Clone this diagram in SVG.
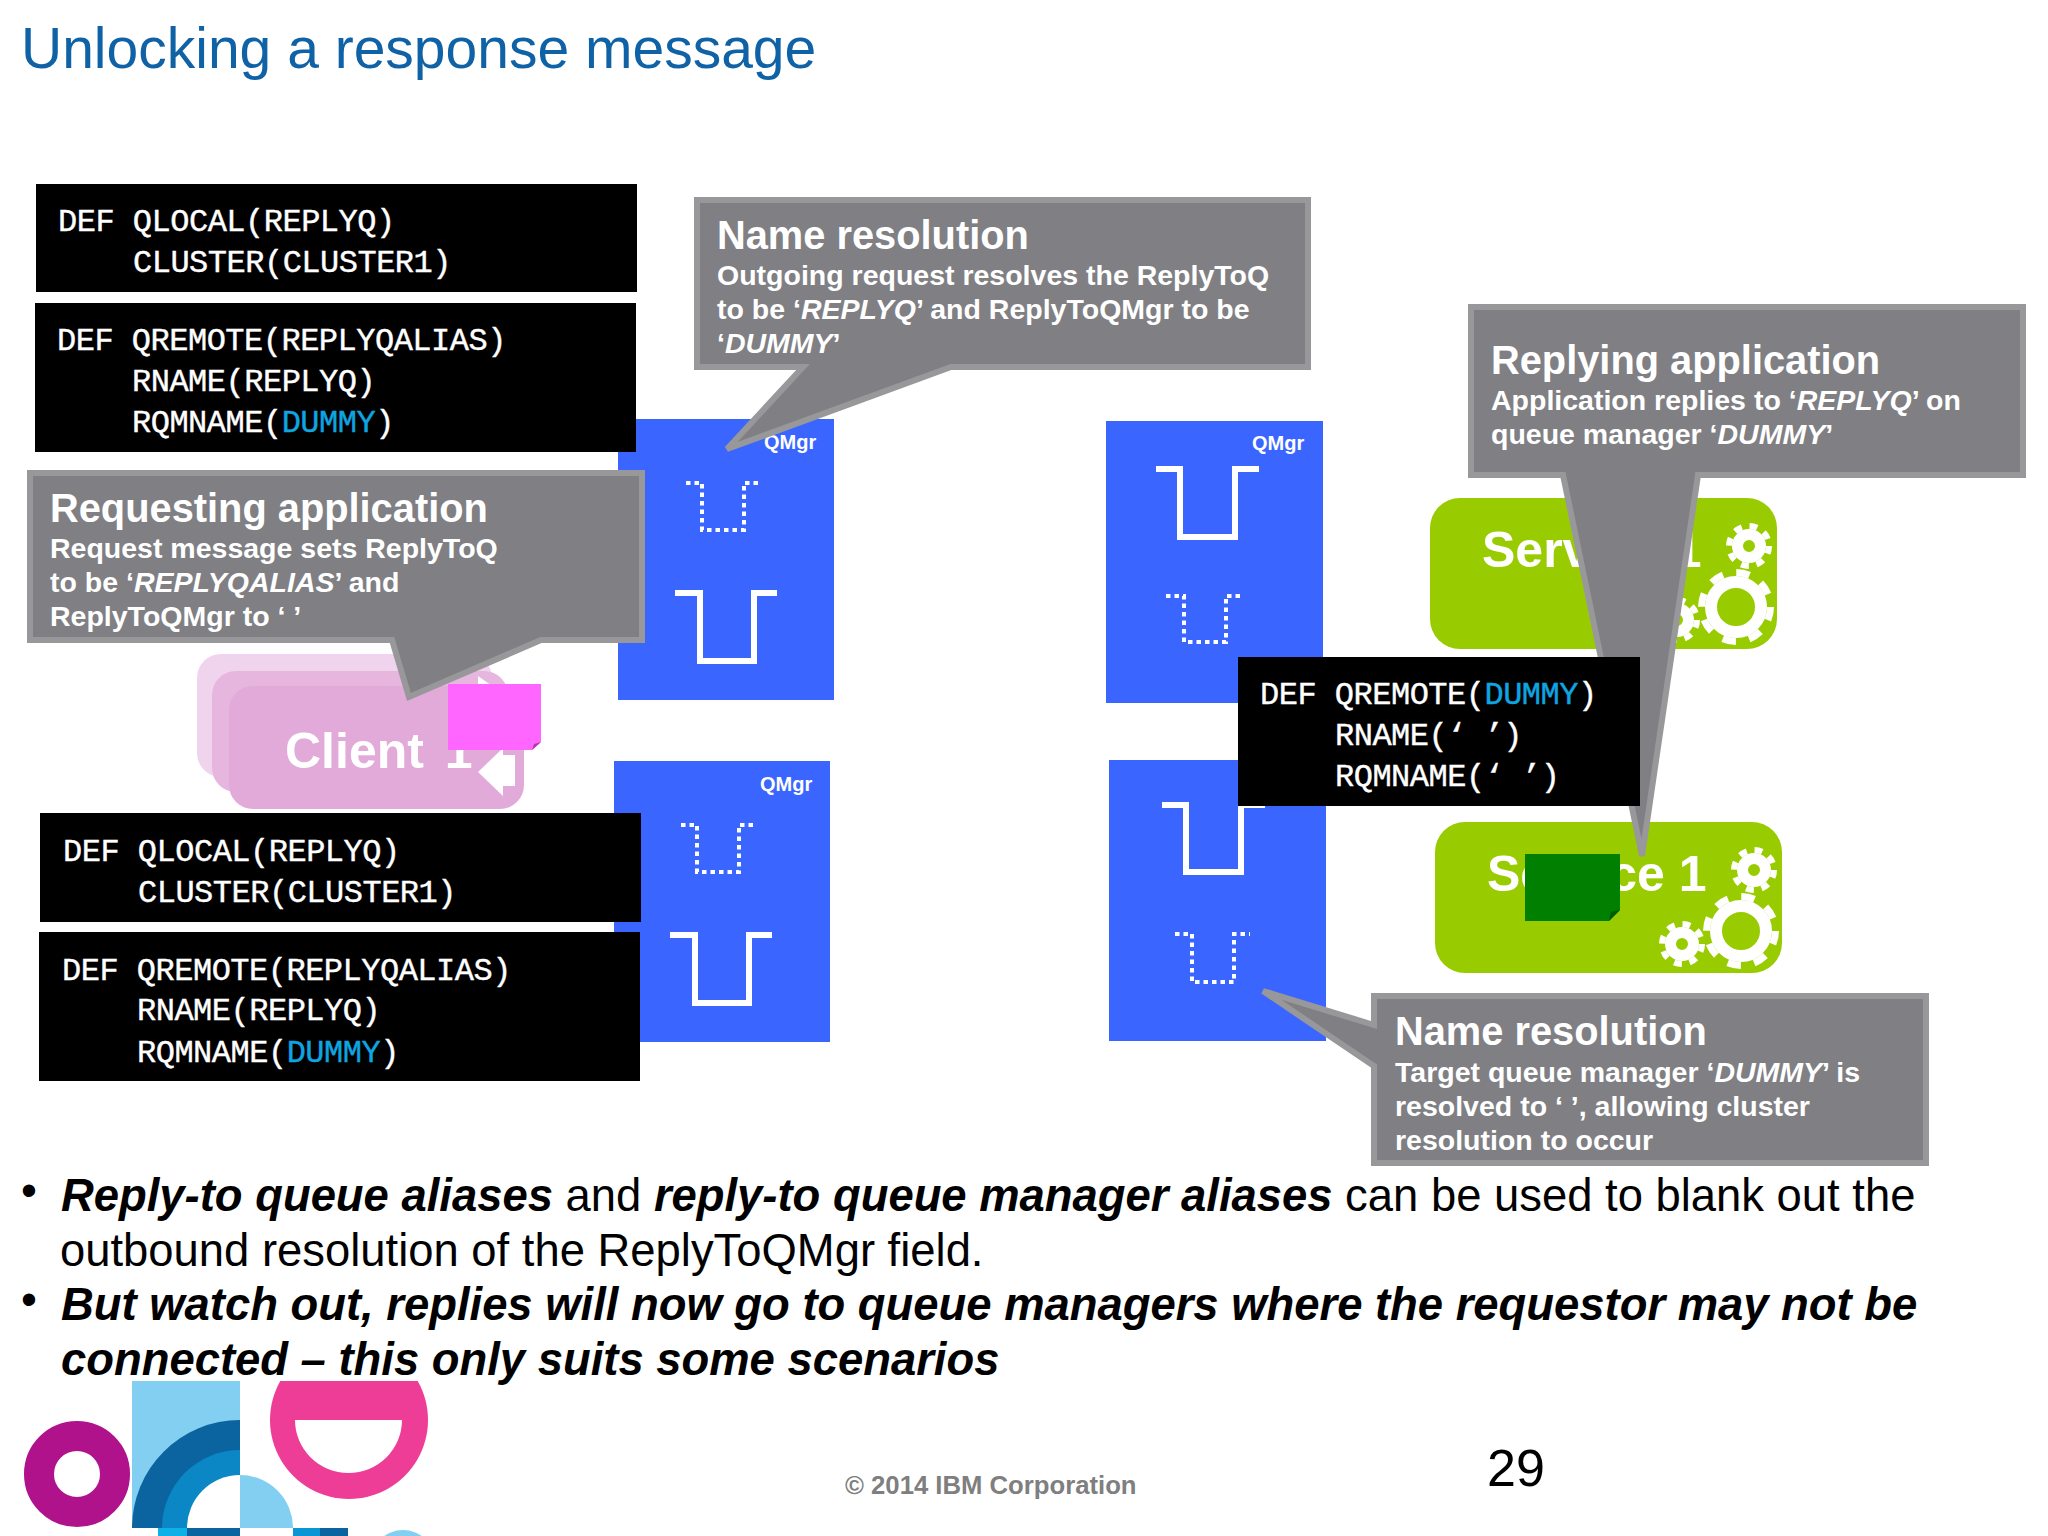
<svg xmlns="http://www.w3.org/2000/svg" width="2048" height="1536" viewBox="0 0 2048 1536">
<defs>
<style>
.s{font-family:"Liberation Sans",Arial,sans-serif}
.m{font-family:"Liberation Mono","DejaVu Sans Mono",monospace;font-size:32px;letter-spacing:-.5px;fill:#fff;stroke:#fff;stroke-width:.4px}
.d{fill:#0ea5e0;stroke:#0ea5e0}
.blk{fill:#000}
.q{fill:#3a66ff}
.ql{font-family:"Liberation Sans",Arial,sans-serif;font-size:20px;font-weight:700;fill:#fff}
.sol{fill:none;stroke:#fff;stroke-width:6}
.das{fill:none;stroke:#fff;stroke-width:4;stroke-dasharray:4.500 4}
.co{fill:#808084;stroke:#98989b;stroke-width:6}
.h{font-family:"Liberation Sans",Arial,sans-serif;font-size:39.800px;font-weight:700;fill:#fff}
.t{font-family:"Liberation Sans",Arial,sans-serif;font-size:28.500px;font-weight:700;fill:#fff}
.i{font-style:italic}
.g{fill:#9c0}
.svc{font-family:"Liberation Sans",Arial,sans-serif;font-size:50px;font-weight:700;fill:#fff}
.b{font-family:"Liberation Sans",Arial,sans-serif;font-size:45.400px;fill:#000}
.bi{font-weight:700;font-style:italic}
</style>
<g id="gb"><circle r="25" fill="none" stroke="#fff" stroke-width="12"/><circle r="34.500" fill="none" stroke="#fff" stroke-width="7" stroke-dasharray="13.55 13.55"/></g>
<g id="gs"><circle r="11.500" fill="none" stroke="#fff" stroke-width="11"/><circle r="20" fill="none" stroke="#fff" stroke-width="6" stroke-dasharray="7.85 7.85"/></g>
</defs>
<rect width="2048" height="1536" fill="#fff"/>
<text id="title" class="s" x="21" y="68" font-size="57" fill="#0f62a5">Unlocking a response message</text>

<g id="client">
<rect x="197" y="654" width="295" height="123" rx="24" fill="#f0d4ee"/>
<rect x="212" y="671" width="296" height="121" rx="24" fill="#e6b6de"/>
<polygon points="478,676 492,686 478,690" fill="#fff"/>
<rect x="229" y="686" width="295" height="123" rx="24" fill="#e2aad9"/>
<text class="svc" x="285" y="768" word-spacing="7">Client 1</text>
<polygon points="478,772 503,748 503,755 515,755 515,786 503,786 503,796" fill="#fff"/>
</g>

<g id="qmgr1"><rect class="q" x="618" y="419" width="216" height="281"/><text class="ql" x="764" y="449">QMgr</text>
<path class="das" d="M686 483H702V530H744V483H762"/><path class="sol" d="M675 593H700V661H754V593H777"/></g>
<g id="qmgr2"><rect class="q" x="1106" y="421" width="217" height="282"/><text class="ql" x="1252" y="450">QMgr</text>
<path class="sol" d="M1156 469H1180V537H1235V469H1259"/><path class="das" d="M1166 596H1184V642H1226V596H1244"/></g>
<g id="qmgr3"><rect class="q" x="614" y="761" width="216" height="281"/><text class="ql" x="760" y="791">QMgr</text>
<path class="das" d="M681 825H697V872H739V825H757"/><path class="sol" d="M670 935H695V1003H749V935H772"/></g>
<g id="qmgr4"><rect class="q" x="1109" y="760" width="217" height="281"/>
<path class="sol" d="M1162 805H1186V872H1241V805H1265"/><path class="das" d="M1175 934H1192V982H1234V934H1250"/></g>

<g id="service-top"><rect class="g" x="1430" y="498" width="347" height="151" rx="30"/>
<text class="svc" x="1482" y="567">Service 1</text>
<use href="#gs" x="1749" y="546"/><use href="#gb" x="1736" y="607"/><use href="#gs" x="1677" y="620"/></g>
<g id="service-bottom"><rect class="g" x="1435" y="822" width="347" height="151" rx="30"/>
<text class="svc" x="1487" y="891">Service 1</text>
<use href="#gs" x="1754" y="870"/><use href="#gb" x="1741" y="931"/><use href="#gs" x="1682" y="944"/></g>

<g id="callout-name1"><path class="co" d="M697 200H1308V367H951L727 449L803 367H697Z"/>
<text class="h" x="717" y="249">Name resolution</text>
<text class="t" x="717" y="285">Outgoing request resolves the ReplyToQ</text>
<text class="t" x="717" y="319">to be ‘<tspan class="i">REPLYQ</tspan>’ and ReplyToQMgr to be</text>
<text class="t" x="717" y="353">‘<tspan class="i">DUMMY</tspan>’</text></g>

<g id="callout-reply"><path class="co" d="M1471 307H2023V475H1698L1642 856L1563 475H1471Z"/>
<text class="h" x="1491" y="374">Replying application</text>
<text class="t" x="1491" y="410">Application replies to ‘<tspan class="i">REPLYQ</tspan>’ on</text>
<text class="t" x="1491" y="444">queue manager ‘<tspan class="i">DUMMY</tspan>’</text></g>

<g id="callout-name2"><path class="co" d="M1374 996H1926V1163H1374V1066L1263 991L1374 1025Z"/>
<text class="h" x="1395" y="1045">Name resolution</text>
<text class="t" x="1395" y="1082">Target queue manager ‘<tspan class="i">DUMMY</tspan>’ is</text>
<text class="t" x="1395" y="1116">resolved to ‘ ’, allowing cluster</text>
<text class="t" x="1395" y="1150">resolution to occur</text></g>

<g id="def1"><rect class="blk" x="36" y="184" width="601" height="108"/>
<text class="m" x="58" y="231">DEF QLOCAL(REPLYQ)</text><text class="m" x="133" y="272">CLUSTER(CLUSTER1)</text></g>
<g id="def2"><rect class="blk" x="35" y="303" width="601" height="149"/>
<text class="m" x="57" y="350">DEF QREMOTE(REPLYQALIAS)</text><text class="m" x="132" y="391">RNAME(REPLYQ)</text>
<text class="m" x="132" y="432">RQMNAME(<tspan class="d">DUMMY</tspan>)</text></g>

<g id="callout-request"><path class="co" d="M30 473H642V640H541L409 697L392 640H30Z"/>
<text class="h" x="50" y="522">Requesting application</text>
<text class="t" x="50" y="558">Request message sets ReplyToQ</text>
<text class="t" x="50" y="592">to be ‘<tspan class="i">REPLYQALIAS</tspan>’ and</text>
<text class="t" x="50" y="626">ReplyToQMgr to ‘ ’</text></g>

<g id="msg-magenta"><path d="M448 684H541V742L532 750H448Z" fill="#f6f"/><path d="M541 742L532 750L534 744Z" fill="#b03ab0"/></g>

<g id="def3"><rect class="blk" x="40" y="813" width="601" height="109"/>
<text class="m" x="63" y="861">DEF QLOCAL(REPLYQ)</text><text class="m" x="138" y="902">CLUSTER(CLUSTER1)</text></g>
<g id="def4"><rect class="blk" x="39" y="932" width="601" height="149"/>
<text class="m" x="62" y="980">DEF QREMOTE(REPLYQALIAS)</text><text class="m" x="137" y="1020">RNAME(REPLYQ)</text>
<text class="m" x="137" y="1062">RQMNAME(<tspan class="d">DUMMY</tspan>)</text></g>
<g id="def5"><rect class="blk" x="1238" y="657" width="402" height="149"/>
<text class="m" x="1260" y="704">DEF QREMOTE(<tspan class="d">DUMMY</tspan>)</text><text class="m" x="1335" y="745">RNAME(‘ ’)</text>
<text class="m" x="1335" y="786">RQMNAME(‘ ’)</text></g>

<g id="msg-green"><path d="M1525 854H1620V910L1609 921H1525Z" fill="#007f00"/><path d="M1620 910L1609 921L1611 912Z" fill="#005c00"/></g>

<g id="bullets">
<text class="b" x="21" y="1206">•</text>
<text class="b" x="61" y="1211"><tspan class="bi">Reply-to queue aliases</tspan> and <tspan class="bi">reply-to queue manager aliases</tspan> can be used to blank out the</text>
<text class="b" x="60" y="1266">outbound resolution of the ReplyToQMgr field.</text>
<text class="b" x="21" y="1315">•</text>
<text class="b bi" x="61" y="1320">But watch out, replies will now go to queue managers where the requestor may not be</text>
<text class="b bi" x="61" y="1375">connected – this only suits some scenarios</text>
</g>

<g id="logo">
<circle cx="77" cy="1474" r="38" fill="none" stroke="#b0128c" stroke-width="30"/>
<rect x="132" y="1381" width="108" height="147" fill="#82cff2"/>
<path d="M132 1528A108 108 0 0 1 240 1420V1528Z" fill="#0b649f"/>
<path d="M162 1528A78 78 0 0 1 240 1450V1528Z" fill="#0a87c4"/>
<path d="M187 1528A53 53 0 0 1 240 1475V1528Z" fill="#fff"/>
<path d="M240 1475A53 53 0 0 1 293 1528H240Z" fill="#82cff2"/>
<rect x="158" y="1528" width="29" height="8" fill="#0eb0e8"/><rect x="187" y="1528" width="53" height="8" fill="#0b649f"/>
<rect x="293" y="1528" width="27" height="8" fill="#0a96d4"/><rect x="320" y="1528" width="28" height="8" fill="#0b649f"/>
<path d="M280.300 1381A79 79 0 1 0 417.700 1381Z" fill="#ee3d96"/>
<path d="M295 1420H402A53.500 53 0 0 1 295 1420Z" fill="#fff"/>
<circle cx="403" cy="1562" r="32" fill="#82cff2"/>
</g>
<text id="copyright" class="s" x="845" y="1494" font-size="25.700" font-weight="700" fill="#7f7f7f">© 2014 IBM Corporation</text>
<text id="page" class="s" x="1487" y="1486" font-size="52" fill="#000">29</text>
</svg>
